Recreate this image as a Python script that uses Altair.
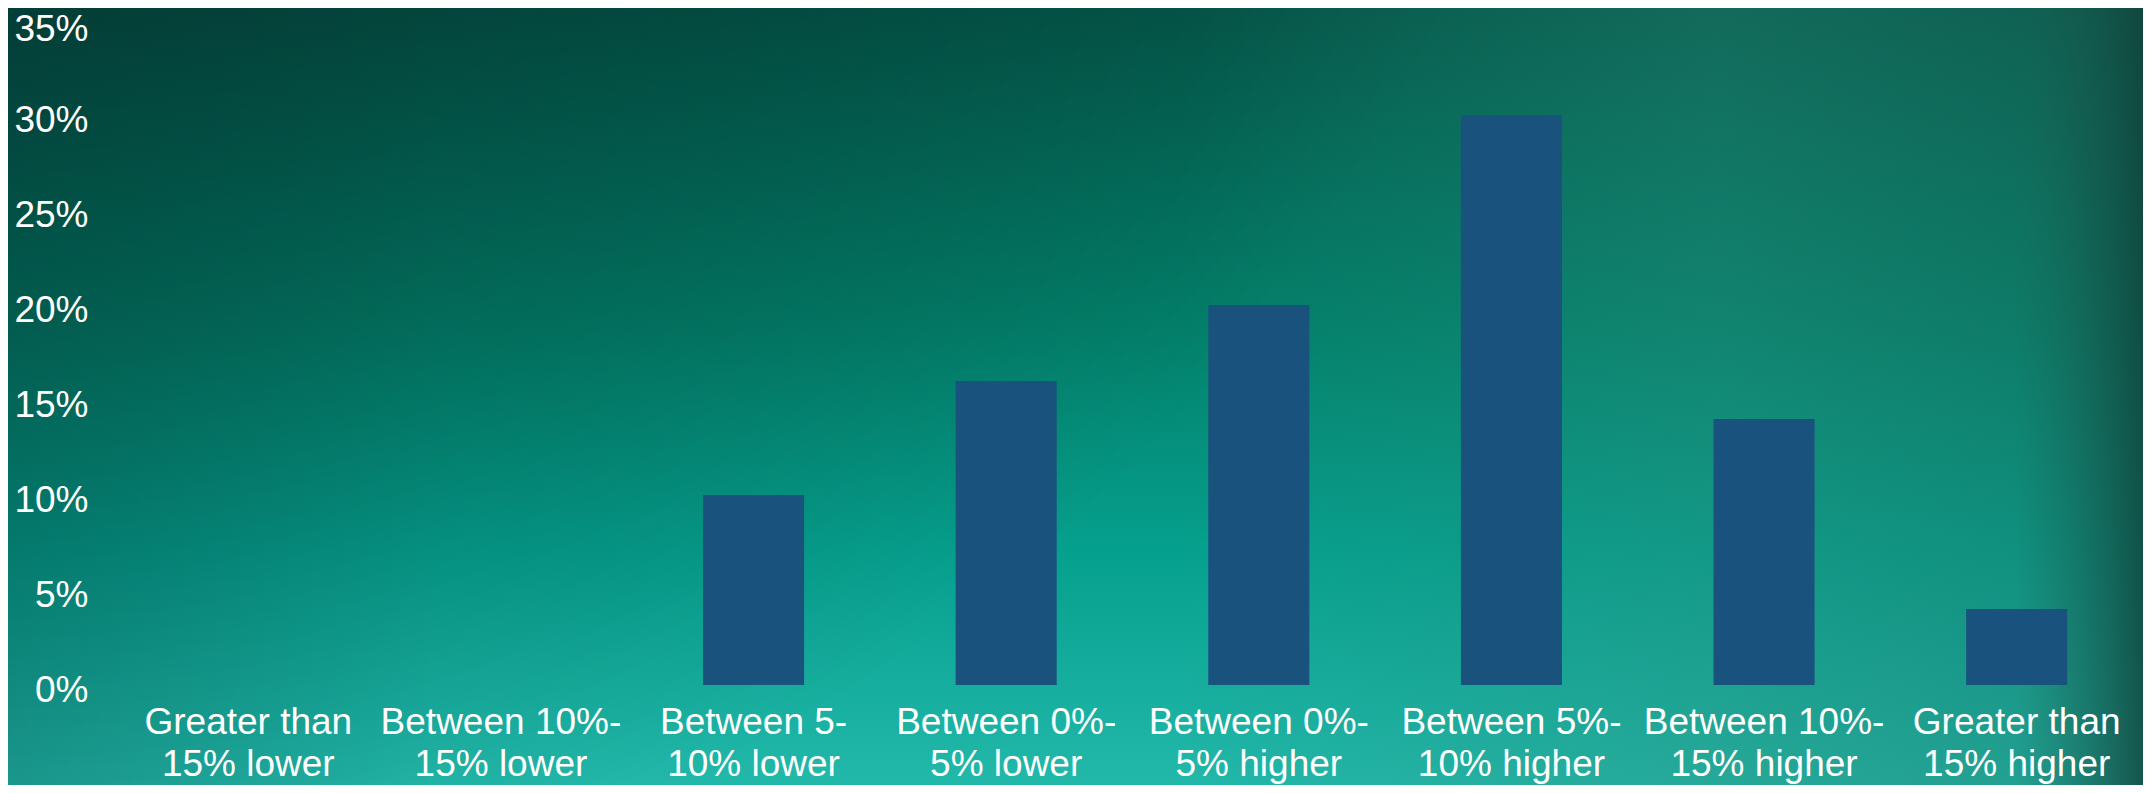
import altair as alt
import pandas as pd

# ---- data ----
categories = [
    "Greater than\n15% lower",
    "Between 10%-\n15% lower",
    "Between 5-\n10% lower",
    "Between 0%-\n5% lower",
    "Between 0%-\n5% higher",
    "Between 5%-\n10% higher",
    "Between 10%-\n15% higher",
    "Greater than\n15% higher",
]
shares = [0, 0, 10, 16, 20, 30, 14, 4]          # percent
y_ticks = [0, 5, 10, 15, 20, 25, 30, 35]

# ---- layout ----
W, H = 2021, 665
PAD = {"left": 114, "top": 12, "right": 0, "bottom": 100}
FONT = "Liberation Sans"

df = pd.DataFrame({"category": categories, "share": shares})
bg = pd.DataFrame({"k": [0]})


def stop(o, c):
    return alt.GradientStop(offset=o, color=c)


base_grad = alt.LinearGradient(
    gradient="linear", x1=0, y1=0, x2=0, y2=1,
    stops=[
        stop(0, "#04584a"),
        stop(0.4, "#027f69"),
        stop(0.7, "#06a08e"),
        stop(1, "#22b8aa"),
    ],
)
corner_grad = alt.RadialGradient(
    gradient="radial", x1=0, y1=0, r1=0, x2=0, y2=0, r2=0.75,
    stops=[
        stop(0, "rgba(0,28,30,0.8)"),
        stop(0.45, "rgba(0,28,30,0.35)"),
        stop(1, "rgba(0,28,30,0)"),
    ],
)
side_grad = alt.LinearGradient(
    gradient="linear", x1=0, y1=0, x2=1, y2=0,
    stops=[
        stop(0, "rgba(0,40,40,0.18)"),
        stop(0.2, "rgba(0,40,40,0)"),
        stop(0.55, "rgba(45,140,122,0)"),
        stop(0.8, "rgba(45,140,122,0.35)"),
        stop(0.94, "rgba(35,115,100,0.35)"),
        stop(1, "rgba(18,68,60,0.85)"),
    ],
)


def bg_layer(fill):
    return alt.Chart(bg).mark_rect(fill=fill).encode(
        x=alt.value(-PAD["left"]), x2=alt.value(W + PAD["right"]),
        y=alt.value(-PAD["top"]), y2=alt.value(H + PAD["bottom"]),
    )


bars = alt.Chart(df).mark_bar(color="#1a527e").encode(
    x=alt.X(
        "category:N", sort=categories,
        scale=alt.Scale(paddingInner=0.6, paddingOuter=0.3),
        axis=alt.Axis(
            title=None, labelAngle=0, ticks=False, domain=False, grid=False,
            labelFont=FONT, labelFontSize=37, labelColor="white",
            labelLineHeight=42, labelPadding=19, labelLimit=0,
            labelOverlap=False, labelBaseline="top", zindex=2,
            labelExpr="split(datum.label, '\\n')",
        ),
    ),
    y=alt.Y(
        "share:Q",
        scale=alt.Scale(domain=[0, 35]),
        axis=alt.Axis(
            title=None, values=y_ticks, ticks=False, domain=False, grid=False,
            labelFont=FONT, labelFontSize=37, labelColor="white", zindex=2,
            labelPadding=34, labelExpr="datum.value + '%'",
            labelOffset={"condition": {"test": "datum.value == 35", "value": 9},
                         "value": 5},
        ),
    ),
)

chart = alt.layer(
    bg_layer(base_grad), bg_layer(corner_grad), bg_layer(side_grad), bars
).properties(
    width=W, height=H, padding=PAD,
    autosize=alt.AutoSizeParams(type="none"),
    background="#07806d",
).configure_view(stroke=None)

chart.save("out.html", embed_options={"renderer": "svg", "actions": False})
